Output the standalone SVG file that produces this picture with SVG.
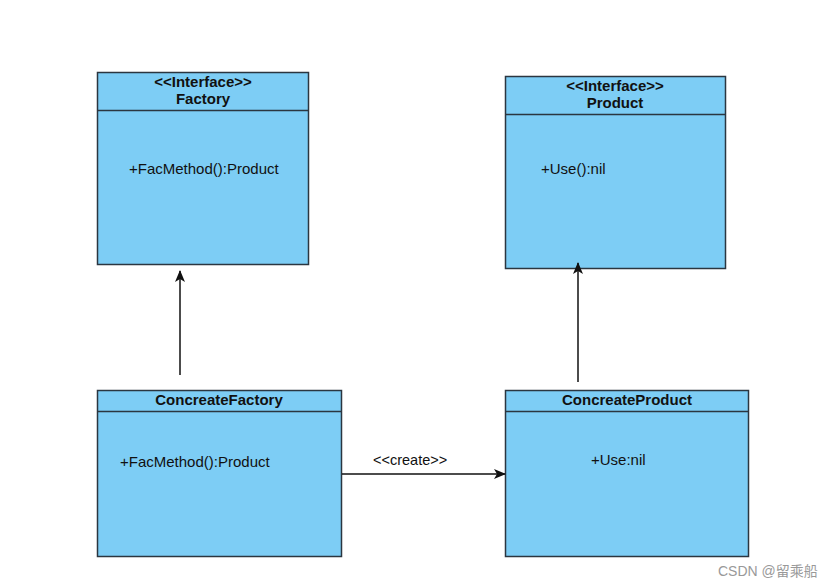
<svg xmlns="http://www.w3.org/2000/svg" width="833" height="587" viewBox="0 0 833 587">
<defs>
<style>
.box{fill:#7dcdf5;stroke:#2b3640;stroke-width:1.5}
.div{stroke:#2b3640;stroke-width:1.5}
.h{font-family:"Liberation Sans",Arial,sans-serif;font-size:15px;font-weight:bold;fill:#111;text-anchor:middle}
.t{font-family:"Liberation Sans",Arial,sans-serif;font-size:15px;fill:#111}
.edge{stroke:#111;stroke-width:1.5;fill:none}
.lbl{font-family:"Liberation Sans",Arial,sans-serif;font-size:14.5px;fill:#111}
.wm{font-family:"Liberation Sans","Noto Sans CJK SC",sans-serif;font-size:14px;fill:#999}
</style>
<marker id="arr" markerWidth="12" markerHeight="10" refX="11" refY="5" orient="auto" markerUnits="userSpaceOnUse">
<path d="M0,0 L12,5 L0,10 L3,5 Z" fill="#111"/>
</marker>
</defs>
<rect width="833" height="587" fill="#fff"/>
<g id="factory">
<rect class="box" x="97.5" y="72.5" width="211" height="192"/>
<line class="div" x1="97.5" y1="110.5" x2="308.5" y2="110.5"/>
<text class="h" x="203" y="87">&lt;&lt;Interface&gt;&gt;</text>
<text class="h" x="203" y="104">Factory</text>
<text class="t" x="129" y="174">+FacMethod():Product</text>
</g>
<g id="product">
<rect class="box" x="505.5" y="76.5" width="220" height="192"/>
<line class="div" x1="505.5" y1="114.5" x2="725.5" y2="114.5"/>
<text class="h" x="615" y="91">&lt;&lt;Interface&gt;&gt;</text>
<text class="h" x="615" y="108">Product</text>
<text class="t" x="541" y="174">+Use():nil</text>
</g>
<g id="concreateFactory">
<rect class="box" x="97.5" y="390.5" width="244" height="166"/>
<line class="div" x1="97.5" y1="411.5" x2="341.5" y2="411.5"/>
<text class="h" x="219" y="405">ConcreateFactory</text>
<text class="t" x="120" y="467">+FacMethod():Product</text>
</g>
<g id="concreateProduct">
<rect class="box" x="505.5" y="390.5" width="243" height="166"/>
<line class="div" x1="505.5" y1="411.5" x2="748.5" y2="411.5"/>
<text class="h" x="627" y="405">ConcreateProduct</text>
<text class="t" x="591" y="465">+Use:nil</text>
</g>
<g id="connectors">
<line class="edge" x1="180" y1="375" x2="180" y2="271" marker-end="url(#arr)"/>
<line class="edge" x1="578" y1="382" x2="578" y2="263" marker-end="url(#arr)"/>
<line class="edge" x1="342" y1="474" x2="505" y2="474" marker-end="url(#arr)"/>
<text class="lbl" x="373" y="465">&lt;&lt;create&gt;&gt;</text>
</g>
<text class="wm" x="718" y="576">CSDN @留乘船</text>
</svg>
